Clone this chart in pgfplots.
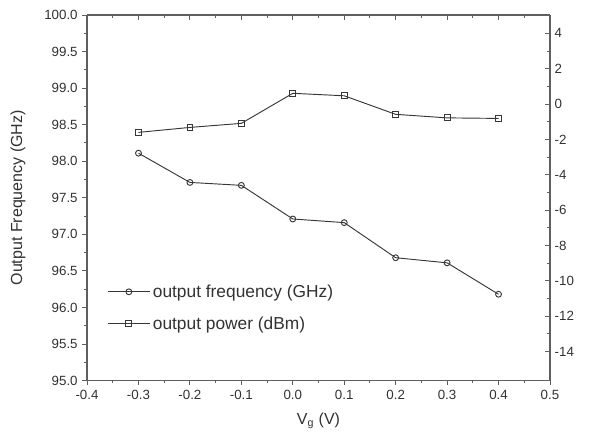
\documentclass[border=0pt]{standalone}
\usepackage{fontspec}
\setmainfont{Liberation Sans}
\usepackage{pgfplots}
\pgfplotsset{compat=1.18}
\definecolor{axgray}{RGB}{95,95,95}
\definecolor{linegray}{RGB}{55,55,55}
\definecolor{textgray}{RGB}{50,50,50}

\begin{document}
\begin{tikzpicture}
\pgfplotsset{
  every axis/.append style={
    scale only axis, width=347pt, height=274pt,
    xmin=-0.4, xmax=0.5,
    xtick={-0.4,-0.3,-0.2,-0.1,0,0.1,0.2,0.3,0.4,0.5},
    minor x tick num=1, minor y tick num=1,
    axis line style={axgray, line width=0.9pt},
    every tick/.style={axgray, line width=0.7pt},
    major tick length=3.5pt, minor tick length=2pt,
    tick label style={font=\fontsize{10}{12}\selectfont, text=textgray},
    /pgf/number format/assume math mode=true,
  },
}
\begin{axis}[name=ax,
  axis x line*=bottom, axis y line*=left, tick align=outside,
  ymin=95, ymax=100,
  ytick={95,95.5,96,96.5,97,97.5,98,98.5,99,99.5,100},
  xticklabel style={/pgf/number format/.cd, fixed, fixed zerofill, precision=1},
  yticklabel style={/pgf/number format/.cd, fixed, fixed zerofill, precision=1},
  xlabel={V\textsubscript{g} (V)},
  ylabel={Output Frequency (GHz)},
  label style={font=\fontsize{12}{14}\selectfont, text=textgray},
  xlabel style={at={(rel axis cs:0.5,-0.11)}, anchor=center},
  ylabel style={at={(rel axis cs:-0.149,0.5)}, anchor=center},
]
% output frequency (GHz)
\addplot[linegray, line width=0.7pt, mark=o, mark size=2.2pt]
  coordinates {(-0.3,98.11)(-0.2,97.71)(-0.1,97.67)(0.0,97.21)(0.1,97.16)(0.2,96.68)(0.3,96.61)(0.4,96.18)};
\end{axis}
\begin{axis}[
  axis x line*=top, axis y line*=right, tick align=inside,
  xticklabels={},
  ymin=-15.64, ymax=5.04,
  ytick={-14,-12,-10,-8,-6,-4,-2,0,2,4},
  yticklabel style={/pgf/number format/.cd, fixed, precision=0},
  legend style={at={(rel axis cs:0.035,0.278)}, anchor=north west, draw=none, fill=none,
    font=\fontsize{13}{15}\selectfont, text=textgray, row sep=9pt},
  legend cell align=left,
  legend image code/.code={\draw[mark repeat=2,mark phase=2] plot coordinates {(0cm,0cm) (0.55cm,0cm) (1.1cm,0cm)};},
]
\addlegendimage{linegray, line width=0.7pt, mark=o, mark size=2.2pt}
\addlegendentry{output frequency (GHz)}
% output power (dBm)
\addplot[linegray, line width=0.7pt, mark=square, mark size=2.2pt]
  coordinates {(-0.3,-1.60)(-0.2,-1.32)(-0.1,-1.09)(0.0,0.61)(0.1,0.47)(0.2,-0.58)(0.3,-0.78)(0.4,-0.81)};
\addlegendentry{output power (dBm)}
\end{axis}
\pgfresetboundingbox
\path[use as bounding box] ([shift={(-65.25pt,-45.75pt)}]ax.south west) rectangle ([shift={(47.25pt,11.25pt)}]ax.north east);
\end{tikzpicture}
\end{document}
